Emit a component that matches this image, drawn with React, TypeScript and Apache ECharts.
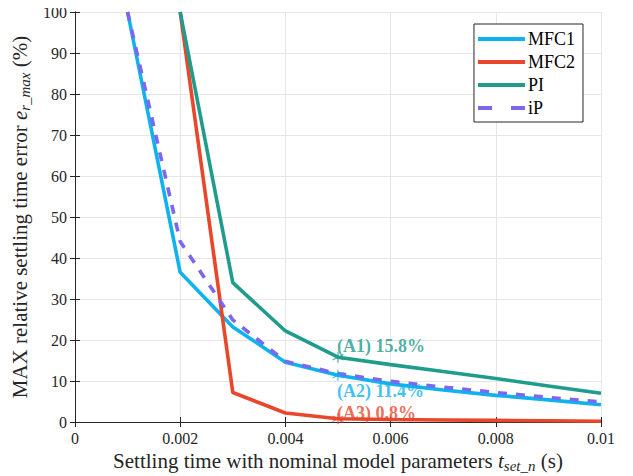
import React, { useEffect, useRef } from "react";
import * as echarts from "echarts";

// Nominal settling time (s)
const settlingTimes = [0.001, 0.002, 0.003, 0.004, 0.005, 0.006, 0.007, 0.008, 0.009, 0.01];

// Maximum relative settling-time error (%) per controller
const mfc1 = [100, 36.5, 23.2, 14.6, 11.4, 9.3, 7.8, 6.5, 5.4, 4.2];
const mfc2 = [null, 100, 7.2, 2.2, 0.8, 0.6, 0.5, 0.4, 0.3, 0.2];
const pi = [null, 100, 34.0, 22.2, 15.8, 14.0, 12.3, 10.6, 8.8, 7.0];
const ip = [100, 44.0, 24.9, 14.8, 11.8, 9.9, 8.5, 7.2, 6.0, 4.9];

const xTickLabels = ["0", "0.002", "0.004", "0.006", "0.008", "0.01"];
const yTicks = [0, 10, 20, 30, 40, 50, 60, 70, 80, 90, 100];

// Highlighted operating point
const markT = 0.005;
const markTags = ["(A1)", "(A2)", "(A3)"];

const FONT = "Liberation Serif";
const AXIS_COLOR = "#262626";
const COLORS = {
  mfc1: "#0db2ee",
  mfc2: "#e8472b",
  pi: "#1f9c8c",
  ip: "#7b68ee",
};

const pairs = (ys: (number | null)[]) =>
  settlingTimes.map((t, i) => [t, ys[i]]).filter((p) => p[1] !== null);

const asterisk =
  "path://M0,-5 L0,5 M-4.33,-2.5 L4.33,2.5 M-4.33,2.5 L4.33,-2.5";
const solidIcon = "path://M0,0 H47 V4 H0 Z";
const dashIcon = "path://M0,0 H14 V4 H0 Z M33,0 H47 V4 H33 Z";

const serif = (size: number, extra: Record<string, unknown> = {}) => ({
  fontFamily: FONT,
  fontSize: size,
  color: AXIS_COLOR,
  ...extra,
});

const nameStyle = {
  ...serif(21),
  rich: {
    r: serif(21),
    it: serif(21, { fontStyle: "italic" }),
    sub: serif(15, { fontStyle: "italic", padding: [9, 0, 0, 0] }),
  },
};

const tickStyle = {
  ...serif(16),
  rich: { t: serif(16) },
};

export default function App() {
  const ref = useRef<HTMLDivElement>(null);

  useEffect(() => {
    if (!ref.current) return;
    const chart = echarts.init(ref.current, null, { renderer: "svg" });
    const mi = settlingTimes.indexOf(markT);

    const lineSeries = (name: string, ys: (number | null)[], color: string, dashed = false) => ({
      name,
      type: "line",
      data: pairs(ys),
      symbol: "none",
      showSymbol: false,
      lineStyle: { color, width: 3.6, type: dashed ? [9, 9] : "solid" },
      itemStyle: { color },
      z: 3,
    });

    const markSeries = (value: number, color: string, tag: string, offset: number[]) => ({
      type: "scatter",
      data: [[markT, value]],
      symbol: asterisk,
      symbolSize: 11,
      clip: false,
      itemStyle: { color: "transparent", borderColor: color, borderWidth: 1.2 },
      label: {
        show: true,
        position: "right",
        distance: 0,
        offset,
        formatter: `{b|${tag} ${value}%}`,
        rich: { b: serif(18, { color, fontWeight: "bold", lineHeight: 17 }) },
      },
      z: 5,
      silent: true,
    });

    chart.setOption({
      animation: false,
      textStyle: { fontFamily: FONT },
      grid: { left: 75, right: 32, top: 12, bottom: 54, outerBoundsMode: "none" },
      legend: {
        right: 50,
        top: 24,
        orient: "vertical",
        data: [
          { name: "MFC1", icon: solidIcon },
          { name: "MFC2", icon: solidIcon },
          { name: "PI", icon: solidIcon },
          { name: "iP", icon: dashIcon },
        ],
        formatter: (n: string) => `{l|${n}}`,
        backgroundColor: "#fff",
        borderColor: AXIS_COLOR,
        borderWidth: 1,
        borderRadius: 0,
        padding: [6, 8, 5, 4],
        itemGap: 5,
        itemWidth: 47,
        itemHeight: 4,
        textStyle: {
          ...serif(18, { color: "#000" }),
          padding: [0, 0, 0, -2],
          rich: { l: serif(18, { color: "#000", lineHeight: 18 }) },
        },
      },
      xAxis: [
        {
          type: "value",
          min: 0,
          max: 0.01,
          interval: 0.002,
          name: "{r|Settling time with nominal model parameters }{it|t}{sub|set_n}{r| (s)}",
          nameLocation: "middle",
          nameGap: 11,
          nameTextStyle: nameStyle,
          axisLine: { lineStyle: { color: AXIS_COLOR, width: 1 } },
          axisTick: { inside: true, length: 5, lineStyle: { color: AXIS_COLOR } },
          axisLabel: {
            ...tickStyle,
            margin: 8,
            formatter: (v: number) => `{t|${xTickLabels[Math.round(v / 0.002)] ?? ""}}`,
          },
          splitLine: { show: true, lineStyle: { color: "#e6e6e6", width: 1 } },
        },
        {
          type: "value",
          position: "top",
          min: 0,
          max: 0.01,
          interval: 0.002,
          axisLine: { show: true, lineStyle: { color: AXIS_COLOR, width: 1 } },
          axisTick: { show: true, inside: true, length: 5, lineStyle: { color: AXIS_COLOR } },
          axisLabel: { show: false },
          splitLine: { show: false },
        },
      ],
      yAxis: [
        {
          type: "value",
          min: yTicks[0],
          max: yTicks[yTicks.length - 1],
          interval: 10,
          name: "{r|MAX relative settling time error }{it|e}{sub|r_max}{r| (%)}",
          nameLocation: "middle",
          nameGap: 43,
          nameTextStyle: nameStyle,
          axisLine: { show: true, lineStyle: { color: AXIS_COLOR, width: 1 } },
          axisTick: { show: true, inside: true, length: 5, lineStyle: { color: AXIS_COLOR } },
          axisLabel: {
            ...tickStyle,
            margin: 8,
            formatter: (v: number) => `{t|${v}}`,
          },
          splitLine: { show: true, lineStyle: { color: "#e6e6e6", width: 1 } },
        },
        {
          type: "value",
          position: "right",
          min: 0,
          max: 100,
          interval: 10,
          axisLine: { show: true, lineStyle: { color: AXIS_COLOR, width: 1 } },
          axisTick: { show: true, inside: true, length: 5, lineStyle: { color: AXIS_COLOR } },
          axisLabel: { show: false },
          splitLine: { show: false },
        },
      ],
      series: [
        lineSeries("MFC1", mfc1, COLORS.mfc1),
        lineSeries("MFC2", mfc2, COLORS.mfc2),
        lineSeries("PI", pi, COLORS.pi),
        lineSeries("iP", ip, COLORS.ip, true),
        markSeries(pi[mi] as number, COLORS.pi, markTags[0], [-7, -11]),
        markSeries(mfc1[mi] as number, COLORS.mfc1, markTags[1], [-7, 16]),
        markSeries(mfc2[mi] as number, COLORS.mfc2, markTags[2], [-7, -6]),
      ],
    });

    return () => chart.dispose();
  }, []);

  return <div ref={ref} style={{ width: 633, height: 476, marginLeft: -8, marginTop: -8 }} />;
}
